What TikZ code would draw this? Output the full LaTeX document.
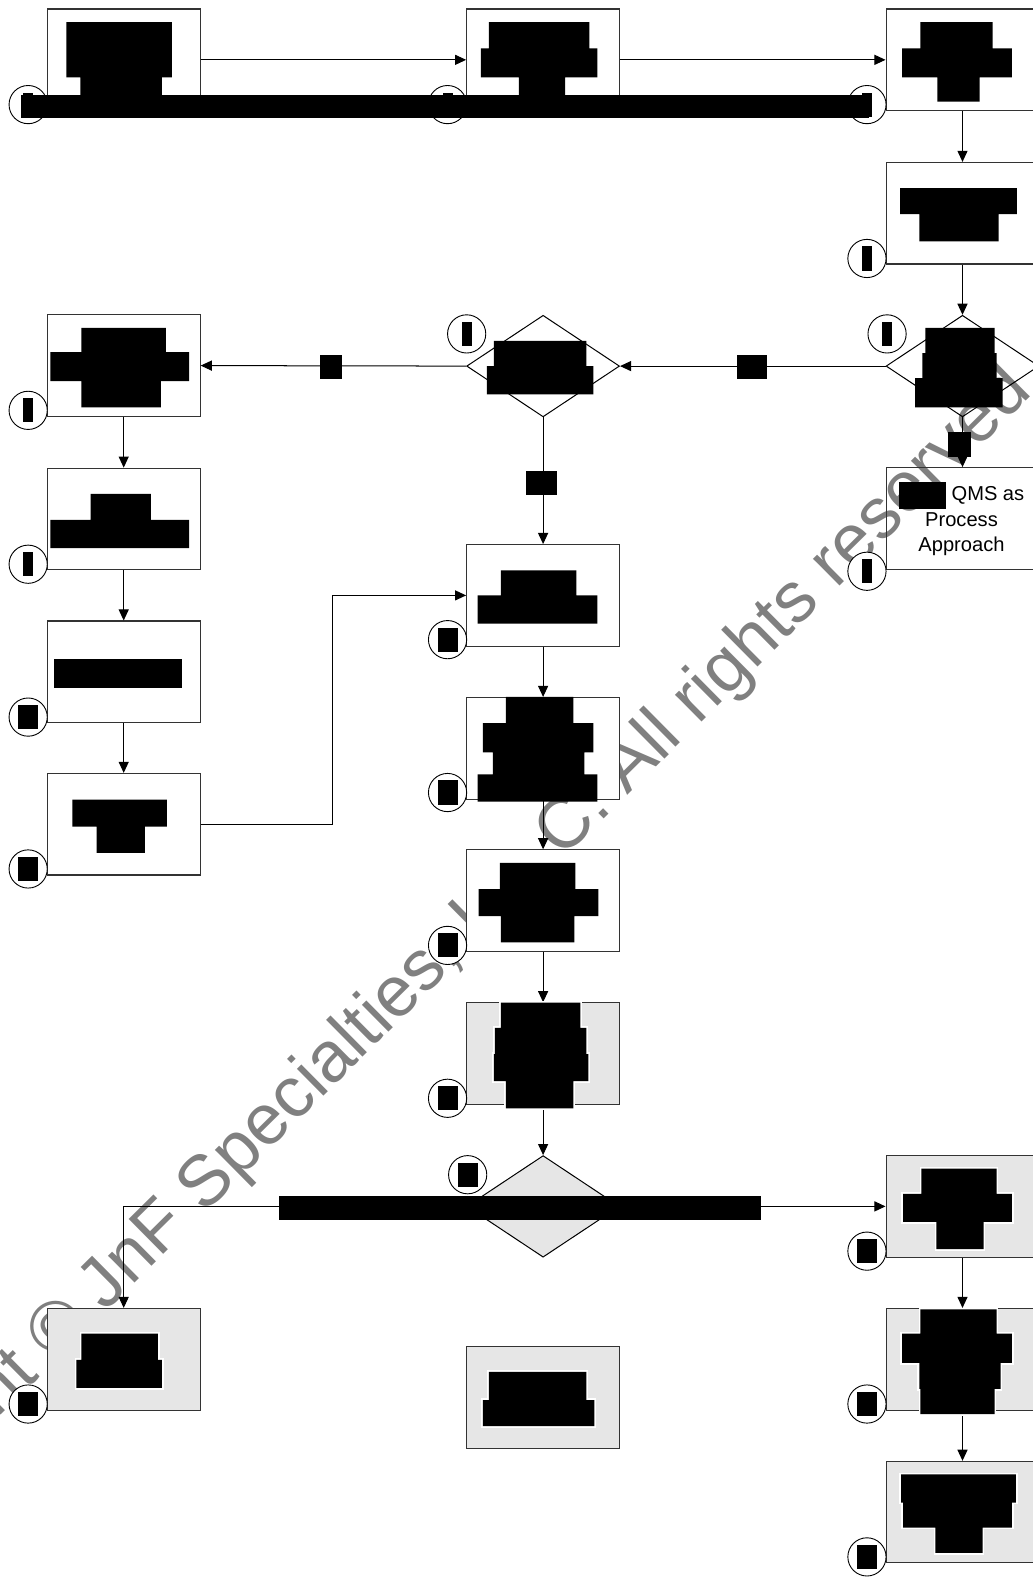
\documentclass[tikz,border=0pt]{standalone}
\usepackage{fontspec}
\setmainfont{Liberation Sans}
\usetikzlibrary{shapes.geometric,arrows.meta}
\definecolor{fillgray}{HTML}{E6E6E6}
\definecolor{wmgray}{HTML}{808080}
\pgfdeclarelayer{background}
\pgfsetlayers{background,main}
\newcommand\narrowmark{\rule{10pt}{24pt}}
\newcommand\widemark{\rule{20pt}{24pt}}
\begin{document}
\begin{tikzpicture}[x=1pt,y=-1pt,
  procbox/.style={draw=black!80,line width=1.1pt,fill=white,minimum width=152pt,minimum height=101pt,inner sep=0pt},
  graybox/.style={procbox,fill=fillgray},
  openbox/.style={procbox,fill=none},
  decbox/.style={diamond,draw=black,line width=1pt,minimum width=152pt,minimum height=101pt,inner sep=0pt},
  graydec/.style={decbox,fill=fillgray},
  conn/.style={draw=black,line width=1pt,-{Triangle[length=11pt,width=10pt]}},
  numcirc/.style={circle,draw=black,line width=0.9pt,fill=white,minimum size=38pt,inner sep=0pt},
  redact/.style={fill=black},
  halo/.style={draw=white,line width=3.5pt},
  lbl/.style={fill=black,inner sep=0pt,minimum height=24pt},
  qtext/.style={inner sep=0pt,anchor=base,font=\fontsize{20}{25}\selectfont}
]
\useasboundingbox (0,0) rectangle (1027,1568);
\clip (0,0) rectangle (1027,1568);

% watermark
\begin{pgfonlayer}{background}
\node[wmgray,rotate=44.7,anchor=base,inner sep=0pt,font=\fontsize{71}{77}\selectfont] (wm) at (426,987)
  {Copyright © JnF Specialties, L.L.C. All rights reserved};
\end{pgfonlayer}

% boxes
\node[procbox] (b1) at (123,59.5) {};
\node[procbox] (b2) at (540,59.5) {};
\node[procbox] (b3) at (957,59.5) {};
\node[procbox] (b4) at (957,212) {};
\node[decbox] (d1) at (957,364) {};
\node[decbox] (d2) at (540,364) {};
\node[openbox] (b5) at (957,515.5) {};
\node[procbox] (bA) at (123,363.5) {};
\node[procbox] (bB) at (123,516) {};
\node[procbox] (bC) at (123,668) {};
\node[procbox] (bD) at (123,819.5) {};
\node[procbox] (bE) at (540,592) {};
\node[procbox] (bF) at (540,744) {};
\node[procbox] (bG) at (540,895.5) {};
\node[graybox] (bH) at (540,1047.5) {};
\node[graydec] (d3) at (540,1199.5) {};
\node[graybox] (bI) at (123,1351.5) {};
\node[graybox] (bJ) at (957,1199.5) {};
\node[graybox] (bK) at (957,1351.5) {};
\node[graybox] (bL) at (957,1503.5) {};
\node[graybox] (bM) at (540,1389.5) {};

% text in QMS box
\node[qtext] (t1) at (956,498) {\rule[-8pt]{47pt}{27pt} QMS as};
\node[qtext] (t2) at (956,523) {Process};
\node[qtext] (t3) at (956,548) {Approach};

% connectors
\coordinate (bend1) at (331,819.5);
\draw[conn] (b1) -- (b2);
\draw[conn] (b2) -- (b3);
\draw[conn] (b3) -- (b4);
\draw[conn] (b4) -- (d1);
\draw[conn] (d1.west) -- (d2.east);
\draw[conn] (d2.west) -- (bA.east);
\draw[conn] (d2.south) -- (bE.north);
\draw[conn] (d1.south) -- (b5.north);
\draw[conn] (bA) -- (bB);
\draw[conn] (bB) -- (bC);
\draw[conn] (bC) -- (bD);
\draw[conn] (bD.east) -- (bend1) |- (bE.west);
\draw[conn] (bE) -- (bF);
\draw[conn] (bF) -- (bG);
\draw[conn] (bG) -- (bH);
\draw[conn] (bH) -- (d3);
\draw[conn] (d3.west) -| (bI.north);
\draw[conn] (d3.east) -- (bJ.west);
\draw[conn] (bJ) -- (bK);
\draw[conn] (bK) -- (bL);

% connector labels (redacted)
\node[lbl,minimum width=30pt] (l1) at (748,365) {};
\node[lbl,minimum width=22pt] (l2) at (329,365) {};
\node[lbl,minimum width=31pt] (l3) at (538.5,480) {};
\node[lbl,minimum width=22pt] (l4) at (954,442) {};

% numbered circles
\node[numcirc] (c1) at (28,104) {\narrowmark};
\node[numcirc] (c2) at (445,104) {\narrowmark};
\node[numcirc] (c3) at (862,104) {\narrowmark};
\node[numcirc] (c4) at (862,257) {\narrowmark};
\node[numcirc] (cd1) at (882,332) {\narrowmark};
\node[numcirc] (cd2) at (464,332) {\narrowmark};
\node[numcirc] (c5) at (862,568) {\narrowmark};
\node[numcirc] (cA) at (28,408) {\narrowmark};
\node[numcirc] (cB) at (28,561) {\narrowmark};
\node[numcirc] (cC) at (28,713) {\widemark};
\node[numcirc] (cD) at (28,864) {\widemark};
\node[numcirc] (cE) at (445,636) {\widemark};
\node[numcirc] (cF) at (445,788) {\widemark};
\node[numcirc] (cG) at (445,940) {\widemark};
\node[numcirc] (cH) at (445,1092) {\widemark};
\node[numcirc] (cd3) at (465,1168) {\widemark};
\node[numcirc] (cI) at (28,1396) {\widemark};
\node[numcirc] (cJ) at (862,1244) {\widemark};
\node[numcirc] (cK) at (862,1396) {\widemark};
\node[numcirc] (cL) at (862,1548) {\widemark};

% redacted texts
\fill[redact] (66,22) rectangle (171,77) (80,77) rectangle (161,100);
\fill[redact] (486,22) rectangle (586,48) (478,48) rectangle (594,77) (516,77) rectangle (562,100);
\fill[redact] (915,22) rectangle (987,48) (897,48) rectangle (1006,77) (932,77) rectangle (974,101);
\fill[redact] (21,94) rectangle (864,117);
\fill[redact] (895,187) rectangle (1011,213) (914,213) rectangle (993,240);
\fill[redact] (920,326) rectangle (989,351) (917,351) rectangle (991,376) (910,376) rectangle (997,405);
\fill[redact] (491,339) rectangle (583,364) (484,364) rectangle (590,392);
\fill[redact] (81,326) rectangle (165,350) (50,350) rectangle (188,379) (81,379) rectangle (160,405);
\fill[redact] (90,491) rectangle (150,517) (50,517) rectangle (188,545);
\fill[redact] (54,655) rectangle (181,684);
\fill[redact] (72,795) rectangle (166,822) (96,822) rectangle (144,848);
\fill[redact] (498,567) rectangle (573,592) (475,592) rectangle (594,620);
\fill[redact] (503,693) rectangle (570,719) (480,719) rectangle (590,748) (490,748) rectangle (581,770) (475,770) rectangle (594,797);
\fill[redact] (497,858) rectangle (572,884) (476,884) rectangle (595,911) (498,911) rectangle (571,937);
% redacted texts in grey boxes, with a white halo
\draw[halo] (498,997) rectangle (577,1022) (492,1022) rectangle (583,1048) (491,1048) rectangle (585,1075) (503,1075) rectangle (570,1102);
\draw[halo] (81,1326) rectangle (157,1352) (76,1352) rectangle (161,1380);
\draw[halo] (916,1162) rectangle (991,1187) (898,1187) rectangle (1006,1215) (931,1215) rectangle (978,1242);
\draw[halo] (915,1302) rectangle (991,1326) (897,1326) rectangle (1006,1355) (914,1355) rectangle (995,1381) (915,1381) rectangle (989,1406);
\draw[halo] (896,1466) rectangle (1010,1494) (898,1494) rectangle (1006,1519) (930,1519) rectangle (977,1544);
\draw[halo] (486,1364) rectangle (583,1392) (480,1392) rectangle (591,1418);
\fill[redact] (498,997) rectangle (577,1022) (492,1022) rectangle (583,1048) (491,1048) rectangle (585,1075) (503,1075) rectangle (570,1102);
\fill[redact] (81,1326) rectangle (157,1352) (76,1352) rectangle (161,1380);
\fill[redact] (916,1162) rectangle (991,1187) (898,1187) rectangle (1006,1215) (931,1215) rectangle (978,1242);
\fill[redact] (915,1302) rectangle (991,1326) (897,1326) rectangle (1006,1355) (914,1355) rectangle (995,1381) (915,1381) rectangle (989,1406);
\fill[redact] (896,1466) rectangle (1010,1494) (898,1494) rectangle (1006,1519) (930,1519) rectangle (977,1544);
\fill[redact] (486,1364) rectangle (583,1392) (480,1392) rectangle (591,1418);
\fill[redact] (277,1189) rectangle (757,1213);
\end{tikzpicture}
\end{document}
